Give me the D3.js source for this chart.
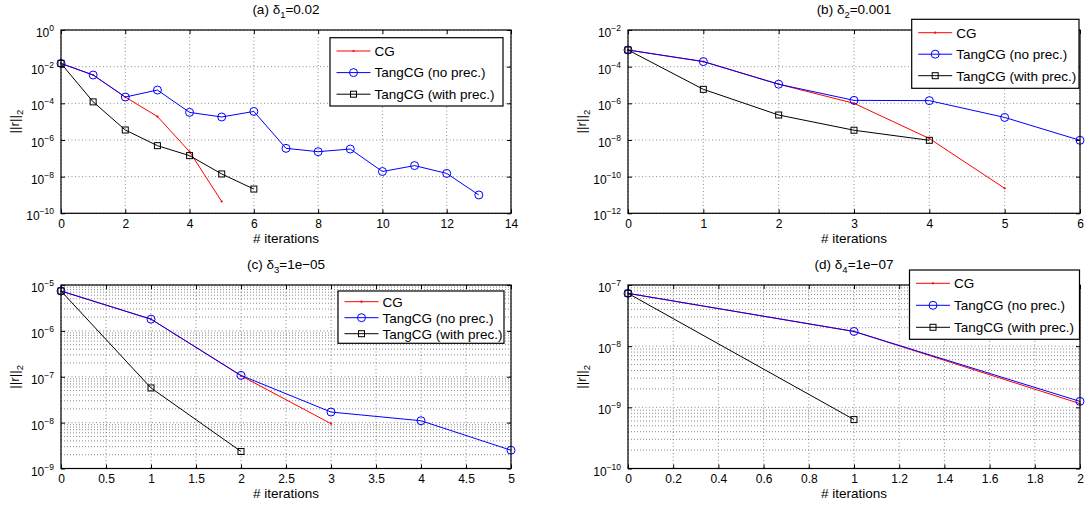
<!DOCTYPE html>
<html>
<head>
<meta charset="utf-8">
<script src="https://cdn.jsdelivr.net/npm/d3@7"></script>
<style>
  body { margin: 0; background: #fff; }
  svg { font-family: "Liberation Sans", Arial, Helvetica, sans-serif; }
</style>
</head>
<body>
<svg id="chart" width="1085" height="507"></svg>
<script>

// residual norms per iteration
var seriesNames = ["CG", "TangCG (no prec.)", "TangCG (with prec.)"];

// (a) delta_1 = 0.02
var cgA = [1.5e-2, 3.5e-3, 2.2e-4, 1.9e-5, 2.3e-7, 4.4e-10];
var noPrecA = [1.5e-2, 3.5e-3, 2.2e-4, 5.3e-4, 3.2e-5, 1.8e-5, 3.6e-5, 3.5e-7, 2.3e-7, 3.2e-7, 1.9e-8, 4.0e-8, 1.5e-8, 1.0e-9];
var withPrecA = [1.5e-2, 1.2e-4, 3.5e-6, 4.9e-7, 1.4e-7, 1.4e-8, 2.1e-9];

// (b) delta_2 = 0.001
var cgB = [8.1e-4, 1.9e-4, 1.1e-5, 1.0e-6, 1.2e-8, 2.3e-11];
var noPrecB = [8.1e-4, 1.9e-4, 1.1e-5, 1.45e-6, 1.4e-6, 1.7e-7, 9.6e-9];
var withPrecB = [8.1e-4, 5.8e-6, 2.3e-7, 3.4e-8, 9.6e-9];

// (c) delta_3 = 1e-05
var cgC = [7.4e-6, 1.8e-6, 1.05e-7, 9.5e-9];
var noPrecC = [7.4e-6, 1.8e-6, 1.07e-7, 1.7e-8, 1.1e-8, 2.5e-9];
var withPrecC = [7.4e-6, 5.7e-8, 2.35e-9];

// (d) delta_4 = 1e-07
var cgD = [7.3e-8, 1.74e-8, 1.15e-9];
var noPrecD = [7.3e-8, 1.74e-8, 1.25e-9];
var withPrecD = [7.3e-8, 6.3e-10];

var titleLabels = ["(a)", "(b)", "(c)", "(d)"];
var deltaSubs = ["1", "2", "3", "4"];
var deltaValues = ["0.02", "0.001", "1e\u221205", "1e\u221207"];

var xMaxes = [14, 6, 5, 2];
var xTickSteps = [2, 1, 0.5, 0.2];
var yExpRanges = [[-10, 0], [-12, -2], [-9, -5], [-10, -7]];
var yTickExpSteps = [2, 2, 1, 1];

var svg = d3.select("#chart");

// layout of each panel (px)
var panels = [
    { left: 61, top: 30, w: 450, h: 183.3, minor: false,
      leg: { x: 330, y: 37.7, w: 173, h: 68.3, first: 13.3, gap: 21.6 } },
    { left: 628, top: 30, w: 452, h: 183.3, minor: false,
      leg: { x: 911.7, y: 19.3, w: 167.3, h: 69, first: 13.4, gap: 21.5 } },
    { left: 61, top: 285, w: 450, h: 183.5, minor: true,
      leg: { x: 338, y: 291, w: 166, h: 52.3, first: 10.7, gap: 16 } },
    { left: 628, top: 285, w: 452, h: 183.5, minor: true,
      leg: { x: 909.5, y: 270, w: 170, h: 69.3, first: 13.3, gap: 22 } }
];

var allData = [
    [cgA, noPrecA, withPrecA],
    [cgB, noPrecB, withPrecB],
    [cgC, noPrecC, withPrecC],
    [cgD, noPrecD, withPrecD]
];

var colors = ["#ff0000", "#0000ff", "#000000"];
var gridColor = "#6e6e6e";

function drawMarker(sel, kind, color) {
    if (kind == 0) {
        sel.append("circle").attr("r", 1.1).attr("fill", color);
    } else if (kind == 1) {
        sel.append("circle").attr("r", 4).attr("fill", "none")
            .attr("stroke", color).attr("stroke-width", 1);
    } else {
        sel.append("rect").attr("x", -3).attr("y", -3)
            .attr("width", 6).attr("height", 6)
            .attr("fill", "none").attr("stroke", color).attr("stroke-width", 1);
    }
}

panels.forEach(function(p, i) {

    var g = svg.append("g")
        .attr("transform", "translate(" + p.left + "," + p.top + ")");

    var x = d3.scaleLinear().domain([0, xMaxes[i]]).range([0, p.w]);
    var y = d3.scaleLog()
        .domain([Math.pow(10, yExpRanges[i][0]), Math.pow(10, yExpRanges[i][1])])
        .range([p.h, 0]);

    var xTicks = d3.range(0, xMaxes[i] + 1e-9, xTickSteps[i]);
    var yExps = d3.range(yExpRanges[i][0], yExpRanges[i][1] + 1e-9, yTickExpSteps[i]);
    var yTicks = yExps.map(function(e) { return Math.pow(10, e); });

    // minor grid (log sub-decades)
    if (p.minor) {
        var minors = [];
        for (var e = yExpRanges[i][0]; e < yExpRanges[i][1]; e++) {
            for (var m = 2; m <= 9; m++) minors.push(m * Math.pow(10, e));
        }
        g.selectAll(".minor").data(minors).enter().append("line")
            .attr("x1", 0).attr("x2", p.w)
            .attr("y1", function(d) { return y(d); })
            .attr("y2", function(d) { return y(d); })
            .attr("stroke", gridColor).attr("stroke-width", 0.8)
            .attr("stroke-dasharray", "1,2");
    }

    // major grid
    g.selectAll(".vgrid").data(xTicks).enter().append("line")
        .attr("x1", function(d) { return x(d); })
        .attr("x2", function(d) { return x(d); })
        .attr("y1", 0).attr("y2", p.h)
        .attr("stroke", gridColor).attr("stroke-width", 0.8)
        .attr("stroke-dasharray", "1,2.5");
    g.selectAll(".hgrid").data(yTicks).enter().append("line")
        .attr("x1", 0).attr("x2", p.w)
        .attr("y1", function(d) { return y(d); })
        .attr("y2", function(d) { return y(d); })
        .attr("stroke", gridColor).attr("stroke-width", 0.8)
        .attr("stroke-dasharray", "1,2.5");

    // series: CG first, then no prec., then with prec. on top
    var line = d3.line()
        .x(function(d, k) { return x(k); })
        .y(function(d) { return y(d); });

    allData[i].forEach(function(vals, s) {
        g.append("path")
            .datum(vals)
            .attr("d", line)
            .attr("fill", "none")
            .attr("stroke", colors[s])
            .attr("stroke-width", 1);
        vals.forEach(function(v, k) {
            var mk = g.append("g")
                .attr("transform", "translate(" + x(k) + "," + y(v) + ")");
            drawMarker(mk, s, colors[s]);
        });
    });

    // axes with inward ticks
    var xAxis = d3.axisBottom(x).tickValues(xTicks)
        .tickSizeInner(-4).tickSizeOuter(0).tickPadding(6)
        .tickFormat(d3.format("~g"));
    var gx = g.append("g").attr("transform", "translate(0," + p.h + ")").call(xAxis);
    gx.selectAll("text").attr("font-size", "12px").attr("fill", "#000");

    g.append("g").call(d3.axisTop(x).tickValues(xTicks)
        .tickSizeInner(-4).tickSizeOuter(0).tickFormat(""));

    var yAxis = d3.axisLeft(y).tickValues(yTicks)
        .tickSizeInner(-4).tickSizeOuter(0).tickPadding(7)
        .tickFormat(function() { return ""; });
    var gy = g.append("g").call(yAxis);
    gy.selectAll(".tick text").each(function(d) {
        var t = d3.select(this).attr("font-size", "12px").attr("fill", "#000");
        var ex = Math.round(Math.log10(d));
        t.append("tspan").text("10");
        t.append("tspan").attr("dy", -6).attr("font-size", "8.5px")
            .text(ex == 0 ? "0" : "\u2212" + Math.abs(ex));
        t.attr("dy", "0.55em");
    });

    g.append("g").attr("transform", "translate(" + p.w + ",0)")
        .call(d3.axisRight(y).tickValues(yTicks)
            .tickSizeInner(-4).tickSizeOuter(0).tickFormat(""));

    g.selectAll(".domain").remove();
    g.selectAll(".tick line").attr("stroke", "#000");

    g.append("rect")
        .attr("width", p.w).attr("height", p.h)
        .attr("fill", "none").attr("stroke", "#000").attr("stroke-width", 1.2);

    // title
    var title = g.append("text")
        .attr("x", p.w / 2).attr("y", -16)
        .attr("text-anchor", "middle").attr("font-size", "13.5px");
    title.append("tspan").text(titleLabels[i] + " \u03b4");
    title.append("tspan").attr("dy", 4).attr("font-size", "9.5px").text(deltaSubs[i]);
    title.append("tspan").attr("dy", -4).text("=" + deltaValues[i]);

    // axis labels
    g.append("text")
        .attr("x", p.w / 2).attr("y", p.h + 29.5)
        .attr("text-anchor", "middle").attr("font-size", "13.5px")
        .text("# iterations");

    var yl = g.append("text")
        .attr("transform", "translate(-42," + (p.h / 2) + ") rotate(-90)")
        .attr("text-anchor", "middle").attr("font-size", "13.5px");
    yl.append("tspan").text("||r||");
    yl.append("tspan").attr("dy", 4).attr("font-size", "9.5px").text("2");

    // legend
    var L = p.leg;
    var lg = svg.append("g").attr("transform", "translate(" + L.x + "," + L.y + ")");
    lg.append("rect").attr("width", L.w).attr("height", L.h)
        .attr("fill", "#fff").attr("stroke", "#000").attr("stroke-width", 1.2);
    seriesNames.forEach(function(name, s) {
        var ry = L.first + s * L.gap;
        lg.append("line").attr("x1", 6.5).attr("x2", 40.5)
            .attr("y1", ry).attr("y2", ry)
            .attr("stroke", colors[s]).attr("stroke-width", 1);
        var mk = lg.append("g").attr("transform", "translate(23.5," + ry + ")");
        drawMarker(mk, s, colors[s]);
        lg.append("text").attr("x", 44.5).attr("y", ry).attr("dy", "0.36em")
            .attr("font-size", "13.5px").text(name);
    });
});

</script>
</body>
</html>
